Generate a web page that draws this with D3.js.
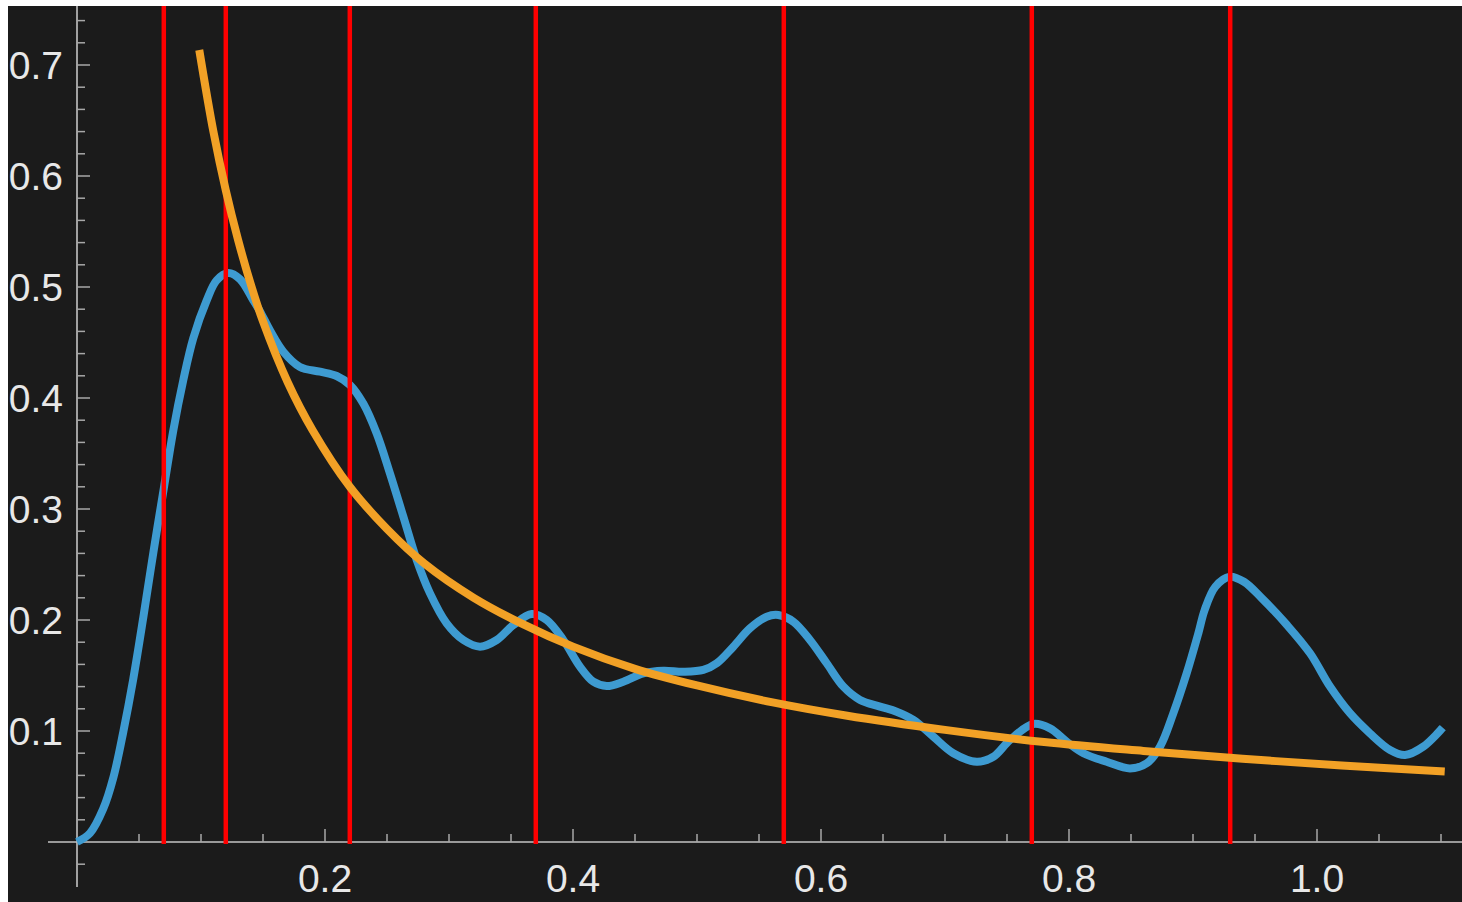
<!DOCTYPE html>
<html>
<head>
<meta charset="utf-8">
<script src="https://cdn.jsdelivr.net/npm/d3@7"></script>
<style>
  html, body { margin: 0; padding: 0; background: #ffffff; }
  svg { display: block; }
</style>
</head>
<body>
<script>
// ---- data ----
const densityX = [0.0, 0.0105, 0.0212, 0.0293, 0.0373, 0.0454, 0.0535, 0.0616, 0.0702, 0.0777,
  0.0857, 0.0938, 0.1046, 0.1126, 0.122, 0.1315, 0.1422, 0.1476, 0.1556, 0.1664,
  0.1798, 0.196, 0.2094, 0.2202, 0.2309, 0.2417, 0.2524, 0.2632, 0.274, 0.2847,
  0.2981, 0.3116, 0.325, 0.3385, 0.3519, 0.3667, 0.3788, 0.3922, 0.4056, 0.4164,
  0.4272, 0.4406, 0.4567, 0.4728, 0.489, 0.5051, 0.5159, 0.5293, 0.5427, 0.5562,
  0.5656, 0.5777, 0.5911, 0.6046, 0.618, 0.6315, 0.6476, 0.661, 0.6745, 0.6906,
  0.7067, 0.7256, 0.739, 0.7524, 0.7712, 0.7847, 0.7981, 0.8116, 0.8304, 0.8492,
  0.8627, 0.8734, 0.8841, 0.8949, 0.9043, 0.9094, 0.918, 0.9296, 0.9411, 0.9556,
  0.9758, 0.9944, 1.0105, 1.0266, 1.0427, 1.0589, 1.071, 1.0857, 1.1014];
const densityY = [0.0, 0.008, 0.030, 0.058, 0.099, 0.147, 0.2025, 0.261, 0.320, 0.371,
  0.416, 0.454, 0.488, 0.506, 0.5126, 0.507, 0.488, 0.478, 0.461, 0.4417,
  0.428, 0.4237, 0.4198, 0.4117, 0.395, 0.368, 0.332, 0.293, 0.254, 0.224,
  0.197, 0.182, 0.176, 0.182, 0.1955, 0.2054, 0.200, 0.182, 0.158, 0.1444,
  0.1405, 0.1444, 0.152, 0.1543, 0.1534, 0.155, 0.161, 0.176, 0.1925, 0.203,
  0.2045, 0.1985, 0.182, 0.161, 0.140, 0.128, 0.122, 0.1174, 0.110, 0.0949,
  0.080, 0.0723, 0.0768, 0.0919, 0.1063, 0.1023, 0.0904, 0.080, 0.0723, 0.0663,
  0.0709, 0.0859, 0.1159, 0.152, 0.188, 0.209, 0.230, 0.239, 0.2345, 0.2195,
  0.1955, 0.170, 0.140, 0.116, 0.0979, 0.0829, 0.0784, 0.0859, 0.103];

const fitX = [0.0986, 0.11, 0.12, 0.13, 0.14, 0.15, 0.17, 0.19, 0.22, 0.25, 0.28, 0.32,
  0.36, 0.40, 0.45, 0.50, 0.56, 0.62, 0.70, 0.78, 0.86, 0.94, 1.02, 1.103];
const fitY = [0.7135, 0.640, 0.587, 0.542, 0.503, 0.469, 0.414, 0.371, 0.320, 0.282, 0.251, 0.220,
  0.196, 0.176, 0.156, 0.141, 0.126, 0.114, 0.101, 0.090, 0.082, 0.075, 0.069, 0.0635];

const markerX = [0.07, 0.12, 0.22, 0.37, 0.57, 0.77, 0.93];

const xMajorTicks = [0.2, 0.4, 0.6, 0.8, 1.0];
const xTickLabels = ["0.2", "0.4", "0.6", "0.8", "1.0"];
const yMajorTicks = [0.1, 0.2, 0.3, 0.4, 0.5, 0.6, 0.7];
const yTickLabels = ["0.1", "0.2", "0.3", "0.4", "0.5", "0.6", "0.7"];

// ---- drawing ----
const W = 1462, H = 902;
const svg = d3.select("body").append("svg").attr("width", W).attr("height", H);

svg.append("rect").attr("x", 8).attr("y", 6).attr("width", W - 8).attr("height", H - 6)
  .attr("fill", "#1b1b1b");

const x = d3.scaleLinear().domain([0, 1.1]).range([77, 1441]);
const y = d3.scaleLinear().domain([0, 0.7]).range([842, 65]);

const axisColor = "#c4c4c4", tickColor = "#a8a8a8", textColor = "#e8e8e8";

// axes lines
svg.append("line").attr("x1", x(-0.0234)).attr("x2", W).attr("y1", y(0)).attr("y2", y(0))
  .attr("stroke", axisColor).attr("stroke-width", 1.6);
svg.append("line").attr("x1", x(0)).attr("x2", x(0)).attr("y1", 6).attr("y2", y(-0.0405))
  .attr("stroke", axisColor).attr("stroke-width", 1.6);

// x ticks
const xMinor = d3.range(1, 23).map(i => i * 0.05);
svg.append("g").selectAll("line").data(xMinor).join("line")
  .attr("x1", d => x(d)).attr("x2", d => x(d))
  .attr("y1", y(0))
  .attr("y2", d => xMajorTicks.some(m => Math.abs(m - d) < 1e-6) ? y(0) - 13 : y(0) - 8)
  .attr("stroke", tickColor).attr("stroke-width", 1.5);

// y ticks
const yMinor = d3.range(-1, 38).map(i => i * 0.02);
svg.append("g").selectAll("line").data(yMinor).join("line")
  .attr("y1", d => y(d)).attr("y2", d => y(d))
  .attr("x1", x(0))
  .attr("x2", d => yMajorTicks.some(m => Math.abs(m - d) < 1e-6) ? x(0) + 13 : x(0) + 8)
  .attr("stroke", tickColor).attr("stroke-width", 1.5);

// labels
const fontFam = "'Liberation Sans', Arial, Helvetica, sans-serif";
svg.append("g").selectAll("text").data(xMajorTicks).join("text")
  .attr("x", d => x(d)).attr("y", 892)
  .attr("text-anchor", "middle")
  .attr("font-family", fontFam).attr("font-size", 39)
  .attr("fill", textColor)
  .text((d, i) => xTickLabels[i]);

svg.append("g").selectAll("text").data(yMajorTicks).join("text")
  .attr("x", 63).attr("y", d => y(d) + 14)
  .attr("text-anchor", "end")
  .attr("font-family", fontFam).attr("font-size", 39)
  .attr("fill", textColor)
  .text((d, i) => yTickLabels[i]);

// density curve
const density = densityX.map((v, i) => [v, densityY[i]]);
const fit = fitX.map((v, i) => [v, fitY[i]]);
const line = d3.line().x(d => x(d[0])).y(d => y(d[1])).curve(d3.curveCatmullRom.alpha(0.5));

svg.append("path").datum(density).attr("d", line)
  .attr("fill", "none").attr("stroke", "#3e9bd1").attr("stroke-width", 8)
  .attr("stroke-linejoin", "round");

// vertical markers
svg.append("g").selectAll("line").data(markerX).join("line")
  .attr("x1", d => x(d)).attr("x2", d => x(d))
  .attr("y1", 6).attr("y2", y(0) + 2)
  .attr("stroke", "#ff0000").attr("stroke-width", 4.5);

// fit curve
svg.append("path").datum(fit).attr("d", line)
  .attr("fill", "none").attr("stroke", "#f2a126").attr("stroke-width", 8)
  .attr("stroke-linejoin", "round");
</script>
</body>
</html>
